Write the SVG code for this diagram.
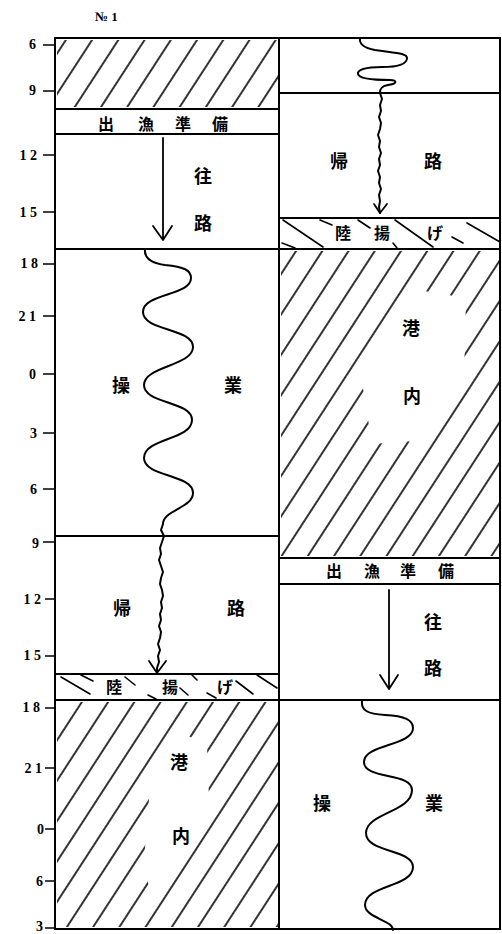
<svg xmlns="http://www.w3.org/2000/svg" width="502" height="934" viewBox="0 0 502 934">
<style>
.box{fill:none;stroke:#000;stroke-width:2}
.hf{fill:url(#hatch)}
.gap{fill:#fff;stroke:none}
.t{font-family:"Noto Sans CJK JP","Noto Sans CJK SC",sans-serif;font-size:18px;font-weight:bold;text-anchor:middle;dominant-baseline:central;fill:#000}
.ts{font-family:"Noto Sans CJK JP","Noto Sans CJK SC",sans-serif;font-size:16px;font-weight:bold;text-anchor:middle;dominant-baseline:central;fill:#000}
.ax{font-family:"Liberation Serif",serif;font-size:14px;font-weight:bold;text-anchor:end;dominant-baseline:central;fill:#000}
.tick{stroke:#000;stroke-width:1.5}
.sl{stroke:#000;stroke-width:1.6;stroke-linecap:round}
.wave{fill:none;stroke:#000;stroke-width:2;stroke-linejoin:round;stroke-linecap:round}
.arr{fill:none;stroke:#000;stroke-width:1.8;stroke-linecap:round;stroke-linejoin:round}
</style>
<defs>
<pattern id="hatch" patternUnits="userSpaceOnUse" width="22" height="22" patternTransform="rotate(33)">
<line x1="11" y1="0" x2="11" y2="22" stroke="#000" stroke-width="1.6"/>
</pattern>
</defs>
<rect width="502" height="934" fill="#fff"/>
<text x="95" y="21" font-family="Liberation Serif,serif" font-size="13" font-weight="bold">№ 1</text>
<g id="axis">
<line class="tick" x1="55" y1="38" x2="55" y2="929"/>
<line class="tick" x1="43" y1="45" x2="55" y2="45"/><text class="ax" x="36" y="44">6</text>
<line class="tick" x1="43" y1="91" x2="55" y2="91"/><text class="ax" x="36" y="90">9</text>
<line class="tick" x1="43" y1="155" x2="55" y2="155"/><text class="ax" x="37" y="155">1 2</text>
<line class="tick" x1="43" y1="212" x2="55" y2="212"/><text class="ax" x="37" y="212">1 5</text>
<line class="tick" x1="43" y1="264" x2="55" y2="264"/><text class="ax" x="38" y="263">1 8</text>
<line class="tick" x1="43" y1="316" x2="55" y2="316"/><text class="ax" x="36" y="316">2 1</text>
<line class="tick" x1="43" y1="374" x2="55" y2="374"/><text class="ax" x="36" y="374">0</text>
<line class="tick" x1="43" y1="433" x2="55" y2="433"/><text class="ax" x="37" y="433">3</text>
<line class="tick" x1="43" y1="489" x2="55" y2="489"/><text class="ax" x="37" y="489">6</text>
<line class="tick" x1="43" y1="542" x2="55" y2="542"/><text class="ax" x="39" y="543">9</text>
<line class="tick" x1="45" y1="599" x2="55" y2="599"/><text class="ax" x="41" y="599">1 2</text>
<line class="tick" x1="45" y1="656" x2="55" y2="656"/><text class="ax" x="41" y="655">1 5</text>
<line class="tick" x1="45" y1="708" x2="55" y2="708"/><text class="ax" x="40" y="707">1 8</text>
<line class="tick" x1="45" y1="768" x2="55" y2="768"/><text class="ax" x="42" y="768">2 1</text>
<line class="tick" x1="45" y1="829" x2="55" y2="829"/><text class="ax" x="44" y="829">0</text>
<line class="tick" x1="45" y1="881" x2="55" y2="881"/><text class="ax" x="43" y="881">6</text>
<line class="tick" x1="45" y1="928" x2="55" y2="928"/><text class="ax" x="43" y="926">3</text>
</g>
<g id="left-port-top">
<rect class="hf" x="57" y="40" width="221" height="67"/>
<rect class="box" x="55" y="38" width="224" height="71"/>
</g>
<g id="left-prep">
<rect class="box" x="55" y="109" width="224" height="25"/>
<text class="ts" x="106 146 183 220" y="123">出漁準備</text>
</g>
<g id="left-outbound">
<rect class="box" x="55" y="134" width="224" height="115"/>
<text class="t" x="203" y="175">往</text>
<text class="t" x="203" y="222">路</text>
</g>
<g id="left-fishing">
<rect class="box" x="55" y="249" width="224" height="287"/>
<text class="t" x="121" y="384">操</text>
<text class="t" x="233" y="384">業</text>
</g>
<g id="left-return">
<rect class="box" x="55" y="536" width="224" height="138"/>
<text class="t" x="122" y="607">帰</text>
<text class="t" x="236" y="607">路</text>
</g>
<g id="left-landing">
<rect class="box" x="55" y="674" width="224" height="26"/>
<line class="sl" x1="61" y1="677" x2="90" y2="694"/>
<line class="sl" x1="81" y1="675" x2="93" y2="681"/>
<line class="sl" x1="125" y1="677" x2="135" y2="685"/>
<line class="sl" x1="148" y1="695" x2="156" y2="699"/>
<line class="sl" x1="180" y1="688" x2="188" y2="695"/>
<line class="sl" x1="192" y1="675" x2="197" y2="680"/>
<line class="sl" x1="207" y1="693" x2="216" y2="698"/>
<line class="sl" x1="236" y1="681" x2="253" y2="694"/>
<line class="sl" x1="257" y1="675" x2="277" y2="688"/>
<text class="ts" x="114 170 225" y="686">陸揚げ</text>
</g>
<g id="left-port">
<rect class="hf" x="57" y="702" width="221" height="225"/>
<polygon class="gap" points="182,733 207,745 209,800 196,838 150,893 144,860 150,787 166,758"/>
<rect class="box" x="55" y="700" width="224" height="229"/>
<text class="t" x="179" y="761">港</text>
<text class="t" x="181" y="835">内</text>
</g>
<g id="right-top">
<rect class="box" x="279" y="38" width="221" height="55"/>
</g>
<g id="right-return">
<rect class="box" x="279" y="93" width="221" height="125"/>
<text class="t" x="339" y="160">帰</text>
<text class="t" x="433" y="160">路</text>
</g>
<g id="right-landing">
<rect class="box" x="279" y="218" width="221" height="31"/>
<line class="sl" x1="283" y1="220" x2="323" y2="247"/>
<line class="sl" x1="282" y1="243" x2="295" y2="248"/>
<line class="sl" x1="320" y1="220" x2="332" y2="225"/>
<line class="sl" x1="358" y1="220" x2="370" y2="228"/>
<line class="sl" x1="393" y1="243" x2="397" y2="248"/>
<line class="sl" x1="395" y1="220" x2="433" y2="247"/>
<line class="sl" x1="452" y1="237" x2="463" y2="243"/>
<line class="sl" x1="467" y1="223" x2="500" y2="242"/>
<text class="ts" x="343 382 435" y="232">陸揚げ</text>
</g>
<g id="right-port">
<rect class="hf" x="281" y="251" width="219" height="305"/>
<polygon class="gap" points="418,290 466,298 464,380 428,440 372,444 362,382"/>
<rect class="box" x="279" y="249" width="221" height="309"/>
<text class="t" x="411" y="327">港</text>
<text class="t" x="412" y="395">内</text>
</g>
<g id="right-prep">
<rect class="box" x="279" y="558" width="221" height="26"/>
<text class="ts" x="334 372 408 446" y="570">出漁準備</text>
</g>
<g id="right-outbound">
<rect class="box" x="279" y="584" width="221" height="116"/>
<text class="t" x="433" y="621">往</text>
<text class="t" x="433" y="667">路</text>
</g>
<g id="right-fishing">
<rect class="box" x="279" y="700" width="221" height="229"/>
<text class="t" x="322" y="802">操</text>
<text class="t" x="434" y="802">業</text>
</g>
<g id="connectors">
<path class="arr" d="M163,138 L163,240 M153,226 L163,240 L172,226"/>
<path class="arr" d="M389,590 L389,689 M380,675 L389,689 L398,675"/>
<path class="wave" d="M145,249 C144,258 150,263 165,265 C184,267 191,270 191,278 C191,296 143,293 143,312 C143,331 193,328 193,347 C193,366 144,366 144,385 C144,404 192,401 192,420 C192,440 144,438 144,458 C144,477 193,474 193,493 C193,508 163,510 163,524"/>
<polyline class="wave" points="163,524 161,530 164,536 162,542 160,548 161,554 159,560 161,566 163,572 161,578 160,584 162,590 163,596 161,602 162,608 160,614 161,620 159,626 161,632 160,638 158,644 160,650 158,656 159,662 157,668 157,673"/>
<path class="arr" d="M149,661 L157,673 L166,661"/>
<path class="wave" d="M360,38 C359,44 364,48 375,50 C395,53 407,53 407,58 C407,65 395,67 382,67 C365,67 357,70 358,74 C359,79 375,80 390,80 C398,80 397,84 388,85 C381,86 380,89 380,93"/>
<polyline class="wave" points="380,93 382,99 380,105 381,111 379,117 381,123 380,129 378,135 380,141 379,147 381,153 379,159 380,165 378,171 380,177 379,183 381,189 379,195 380,201 379,207 380,213"/>
<path class="arr" d="M374,204 L380,213 L387,204"/>
<path class="wave" d="M362,701 C361,710 367,714 385,715 C405,716 413,720 413,728 C413,746 364,744 364,762 C364,780 412,772 412,790 C412,812 366,813 366,833 C366,853 413,849 413,867 C413,887 365,885 365,905 C365,918 393,920 393,930"/>
</g>
</svg>
